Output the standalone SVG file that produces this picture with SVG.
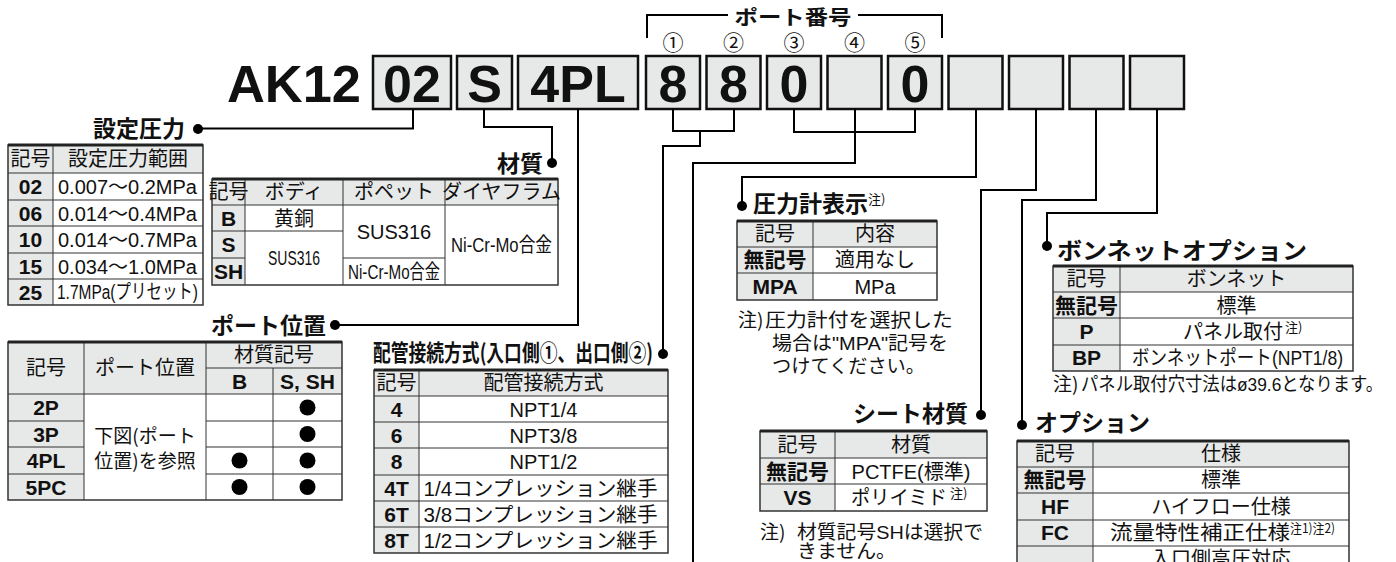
<svg xmlns="http://www.w3.org/2000/svg" width="1396" height="562" viewBox="0 0 1396 562">
<style>
text{font-family:"Liberation Sans","Noto Sans CJK JP",sans-serif;fill:#111}
.jp{font-family:"Noto Sans CJK JP","Liberation Sans",sans-serif}
.box{fill:#e7e8e8;stroke:#111;stroke-width:2.5}
.code{font-size:52px;font-weight:bold;text-anchor:middle}
.ttl{font-family:"Noto Sans CJK JP",sans-serif;font-size:23px;font-weight:bold}
.ln{stroke:#000;stroke-width:2;fill:none}
.hd{fill:#e7e8e8}
.out{fill:none;stroke:#333;stroke-width:1.5}
.top{stroke:#222;stroke-width:3}
.g{stroke:#333;stroke-width:1}
.t{font-size:20px;text-anchor:middle}
.tl{font-size:20px}
.b{font-size:21px;font-weight:bold;text-anchor:middle}
.sup{font-size:13px}
.nt{font-size:19px}
</style>

<g id="title">
<text x="227" y="102" font-size="52" font-weight="bold" textLength="134" lengthAdjust="spacingAndGlyphs">AK12</text>
</g>

<g id="codeboxes">
<rect class="box" x="373" y="56" width="78" height="53"/><text class="code" x="412" y="102">02</text>
<rect class="box" x="457" y="56" width="55" height="53"/><text class="code" x="484.5" y="102">S</text>
<rect class="box" x="518" y="56" width="120" height="53"/><text class="code" x="578" y="102">4PL</text>
<rect class="box" x="646" y="56" width="54" height="53"/><text class="code" x="673" y="102">8</text>
<rect class="box" x="706.5" y="56" width="54" height="53"/><text class="code" x="733.5" y="102">8</text>
<rect class="box" x="767" y="56" width="54" height="53"/><text class="code" x="794" y="102">0</text>
<rect class="box" x="827.5" y="56" width="54" height="53"/>
<rect class="box" x="888" y="56" width="54" height="53"/><text class="code" x="915" y="102">0</text>
<rect class="box" x="948.5" y="56" width="54" height="53"/>
<rect class="box" x="1009" y="56" width="54" height="53"/>
<rect class="box" x="1069.5" y="56" width="54" height="53"/>
<rect class="box" x="1130" y="56" width="54" height="53"/>
</g>

<g id="port-number">
<path class="ln" d="M647,38 V15 H728 M858,15 H942 V38" stroke-width="1.5"/>
<text class="jp" x="793" y="25" font-size="20" font-weight="bold" text-anchor="middle" textLength="117" lengthAdjust="spacingAndGlyphs">ポート番号</text>
<g font-size="21" text-anchor="middle" font-family="Noto Sans CJK JP, sans-serif">
<text x="673" y="50">①</text>
<text x="733.5" y="50">②</text>
<text x="794" y="50">③</text>
<text x="854.5" y="50">④</text>
<text x="915" y="50">⑤</text>
</g>
</g>

<g id="connectors">
<path class="ln" d="M413,109 V128.5 H198"/>
<path class="ln" d="M484,109 V127 H552 V163"/>
<path class="ln" d="M578,109 V325 H335"/>
<path class="ln" d="M673,109 V131 H734 V109 M700,131 V146 H663 V354"/>
<path class="ln" d="M794,109 V132 H915 V109 M855,109 V163 H693 V562"/>
<path class="ln" d="M976,109 V177 H742 V206"/>
<path class="ln" d="M1036,109 V190 H981 V415"/>
<path class="ln" d="M1096,109 V200 H1022 V425"/>
<path class="ln" d="M1157,109 V213 H1047 V246"/>
<circle cx="198" cy="129" r="5"/>
<circle cx="552" cy="163" r="5"/>
<circle cx="335" cy="325" r="5"/>
<circle cx="663" cy="354" r="5"/>
<circle cx="742" cy="206" r="5"/>
<circle cx="981" cy="415" r="5"/>
<circle cx="1022" cy="425" r="5"/>
<circle cx="1047" cy="246" r="5"/>
</g>

<g id="pressure">
<text class="ttl" x="185" y="137" text-anchor="end">設定圧力</text>
<rect class="hd" x="8" y="145" width="195" height="28"/>
<rect class="hd" x="8" y="173" width="45" height="132"/>
<path class="g" d="M53,145 V305 M8,173 H203 M8,200 H203 M8,226 H203 M8,253 H203 M8,279 H203"/>
<rect class="out" x="8" y="145" width="195" height="160"/>
<line class="top" x1="8" y1="145" x2="203" y2="145"/>
<text class="t" x="30.5" y="166">記号</text>
<text class="t" x="128" y="166">設定圧力範囲</text>
<text class="b" x="30.5" y="194">02</text><text class="tl" x="58" y="194">0.007～0.2MPa</text>
<text class="b" x="30.5" y="220.5">06</text><text class="tl" x="58" y="220.5">0.014～0.4MPa</text>
<text class="b" x="30.5" y="247">10</text><text class="tl" x="58" y="247">0.014～0.7MPa</text>
<text class="b" x="30.5" y="273.5">15</text><text class="tl" x="58" y="273.5">0.034～1.0MPa</text>
<text class="b" x="30.5" y="299.5">25</text><text class="tl" x="57" y="299" font-size="17" textLength="141" lengthAdjust="spacingAndGlyphs">1.7MPa(プリセット)</text>
</g>

<g id="material">
<text class="ttl" x="543" y="172" text-anchor="end">材質</text>
<rect class="hd" x="212" y="179" width="346" height="26"/>
<rect class="hd" x="212" y="205" width="33" height="80"/>
<path class="g" d="M245,179 V285 M343,179 V285 M445,179 V285 M212,205 H558 M212,231 H343 M212,258 H245 M343,258 H445"/>
<rect class="out" x="212" y="179" width="346" height="106"/>
<line class="top" x1="212" y1="179" x2="558" y2="179"/>
<text class="t" x="228.5" y="199" font-size="19">記号</text>
<text class="t" x="294" y="199" font-size="19">ボディ</text>
<text class="t" x="394" y="199" font-size="19">ポペット</text>
<text class="t" x="501.5" y="199" font-size="19">ダイヤフラム</text>
<text class="b" x="228.5" y="225.5">B</text>
<text class="b" x="228.5" y="252">S</text>
<text class="b" x="228.5" y="279">SH</text>
<text class="t" x="294" y="225.5">黄銅</text>
<text class="t" x="294" y="264.5" font-size="17" textLength="52" lengthAdjust="spacingAndGlyphs">SUS316</text>
<text class="t" x="394" y="239">SUS316</text>
<text class="t" x="394" y="278.5" font-size="16" textLength="92" lengthAdjust="spacingAndGlyphs">Ni-Cr-Mo合金</text>
<text class="t" x="501.5" y="251.5" font-size="17" textLength="101" lengthAdjust="spacingAndGlyphs">Ni-Cr-Mo合金</text>
</g>

<g id="port-position">
<text class="ttl" x="326" y="334" text-anchor="end">ポート位置</text>
<rect class="hd" x="8" y="342" width="334" height="52"/>
<rect class="hd" x="8" y="394" width="76" height="106"/>
<path class="g" d="M84,342 V500 M206,342 V500 M273,368 V500 M206,368 H342 M8,394 H342 M8,421 H84 M206,421 H342 M8,447 H84 M206,447 H342 M8,474 H84 M206,474 H342"/>
<rect class="out" x="8" y="342" width="334" height="158"/>
<line class="top" x1="8" y1="342" x2="342" y2="342"/>
<text class="t" x="46" y="375">記号</text>
<text class="t" x="145" y="375">ポート位置</text>
<text class="t" x="274" y="362">材質記号</text>
<text class="b" x="239.5" y="388.5">B</text>
<text class="b" x="307.5" y="388.5">S, SH</text>
<text class="b" x="46" y="415">2P</text>
<text class="b" x="46" y="441.5">3P</text>
<text class="b" x="46" y="468">4PL</text>
<text class="b" x="46" y="494.5">5PC</text>
<text class="jp" x="145" y="443" font-size="19" text-anchor="middle">下図(ポート</text>
<text class="jp" x="145" y="468" font-size="19" text-anchor="middle">位置)を参照</text>
<circle cx="307.5" cy="407.5" r="8"/>
<circle cx="307.5" cy="434" r="8"/>
<circle cx="239.5" cy="460.5" r="8"/>
<circle cx="307.5" cy="460.5" r="8"/>
<circle cx="239.5" cy="487" r="8"/>
<circle cx="307.5" cy="487" r="8"/>
</g>

<g id="piping">
<text class="ttl" x="373" y="361" textLength="280" lengthAdjust="spacingAndGlyphs" font-size="22">配管接続方式(入口側①、出口側②)</text>
<rect class="hd" x="374" y="370" width="294" height="26"/>
<rect class="hd" x="374" y="396" width="45" height="157"/>
<path class="g" d="M419,370 V553 M374,396 H668 M374,422 H668 M374,448 H668 M374,475 H668 M374,501 H668 M374,527 H668"/>
<rect class="out" x="374" y="370" width="294" height="183"/>
<line class="top" x1="374" y1="370" x2="668" y2="370"/>
<text class="t" x="396.5" y="390">記号</text>
<text class="t" x="543.5" y="390">配管接続方式</text>
<text class="b" x="396.5" y="416.5">4</text><text class="t" x="543.5" y="416.5">NPT1/4</text>
<text class="b" x="396.5" y="442.5">6</text><text class="t" x="543.5" y="442.5">NPT3/8</text>
<text class="b" x="396.5" y="469">8</text><text class="t" x="543.5" y="469">NPT1/2</text>
<text class="b" x="396.5" y="495.5">4T</text><text class="t" x="540.5" y="495.5" textLength="234" lengthAdjust="spacingAndGlyphs">1/4コンプレッション継手</text>
<text class="b" x="396.5" y="521.5">6T</text><text class="t" x="540.5" y="521.5" textLength="234" lengthAdjust="spacingAndGlyphs">3/8コンプレッション継手</text>
<text class="b" x="396.5" y="547.5">8T</text><text class="t" x="540.5" y="547.5" textLength="234" lengthAdjust="spacingAndGlyphs">1/2コンプレッション継手</text>
</g>

<g id="gauge">
<text class="ttl" x="753" y="212">圧力計表示</text>
<text class="jp sup" x="868" y="204">注)</text>
<rect class="hd" x="737" y="221" width="200" height="26"/>
<rect class="hd" x="737" y="247" width="76" height="53"/>
<path class="g" d="M813,221 V300 M737,247 H937 M737,273 H937"/>
<rect class="out" x="737" y="221" width="200" height="79"/>
<line class="top" x1="737" y1="221" x2="937" y2="221"/>
<text class="t" x="775" y="241">記号</text>
<text class="t" x="875" y="241">内容</text>
<text class="b" x="775" y="267">無記号</text><text class="t" x="875" y="267">適用なし</text>
<text class="b" x="775" y="294">MPA</text><text class="t" x="875" y="294">MPa</text>
<text class="nt jp" x="738" y="327">注)</text>
<text class="nt" x="765" y="327" textLength="188" lengthAdjust="spacingAndGlyphs">圧力計付を選択した</text>
<text class="nt" x="772" y="350" textLength="176" lengthAdjust="spacingAndGlyphs">場合は"MPA"記号を</text>
<text class="nt" x="772" y="373" textLength="153" lengthAdjust="spacingAndGlyphs">つけてください。</text>
</g>

<g id="seat">
<text class="ttl" x="968" y="422" text-anchor="end">シート材質</text>
<rect class="hd" x="760" y="431" width="227" height="27"/>
<rect class="hd" x="760" y="458" width="75" height="53"/>
<path class="g" d="M835,431 V511 M760,458 H987 M760,484 H987"/>
<rect class="out" x="760" y="431" width="227" height="80"/>
<line class="top" x1="760" y1="431" x2="987" y2="431"/>
<text class="t" x="797.5" y="451.5">記号</text>
<text class="t" x="911" y="451.5">材質</text>
<text class="b" x="797.5" y="478.5">無記号</text><text class="t" x="911" y="478.5">PCTFE(標準)</text>
<text class="b" x="797.5" y="505">VS</text><text class="tl" x="851" y="505" textLength="96" lengthAdjust="spacingAndGlyphs">ポリイミド</text><text class="jp sup" x="950" y="498">注)</text>
<text class="nt jp" x="760" y="539">注)</text>
<text class="nt" x="797" y="539" textLength="186" lengthAdjust="spacingAndGlyphs">材質記号SHは選択で</text>
<text class="nt" x="797" y="558" textLength="99" lengthAdjust="spacingAndGlyphs">きません。</text>
</g>

<g id="bonnet">
<text class="ttl" x="1057" y="259" textLength="250" lengthAdjust="spacingAndGlyphs">ボンネットオプション</text>
<rect class="hd" x="1053" y="266" width="300" height="26"/>
<rect class="hd" x="1053" y="292" width="67" height="79"/>
<path class="g" d="M1120,266 V371 M1053,292 H1353 M1053,318 H1353 M1053,345 H1353"/>
<rect class="out" x="1053" y="266" width="300" height="105"/>
<line class="top" x1="1053" y1="266" x2="1353" y2="266"/>
<text class="t" x="1086.5" y="286">記号</text>
<text class="t" x="1236.5" y="286">ボンネット</text>
<text class="b" x="1086.5" y="312.5">無記号</text><text class="t" x="1236.5" y="312.5">標準</text>
<text class="b" x="1086.5" y="339">P</text><text class="tl" x="1183" y="339" textLength="100" lengthAdjust="spacingAndGlyphs">パネル取付</text><text class="jp sup" x="1285" y="332">注)</text>
<text class="b" x="1086.5" y="365">BP</text><text class="t" x="1237.5" y="365" font-size="19" textLength="211" lengthAdjust="spacingAndGlyphs">ボンネットポート(NPT1/8)</text>
<text class="nt jp" x="1053" y="391">注)</text>
<text class="nt" x="1081" y="391" textLength="302" lengthAdjust="spacingAndGlyphs">パネル取付穴寸法はø39.6となります。</text>
</g>

<g id="option">
<text class="ttl" x="1035" y="431">オプション</text>
<rect class="hd" x="1017" y="441" width="332" height="26"/>
<rect class="hd" x="1017" y="467" width="76" height="105"/>
<path class="g" d="M1093,441 V572 M1017,467 H1349 M1017,493 H1349 M1017,520 H1349 M1017,546 H1349"/>
<rect class="out" x="1017" y="441" width="332" height="131"/>
<line class="top" x1="1017" y1="441" x2="1349" y2="441"/>
<text class="t" x="1055" y="461">記号</text>
<text class="t" x="1221" y="461">仕様</text>
<text class="b" x="1055" y="487">無記号</text><text class="t" x="1221" y="487">標準</text>
<text class="b" x="1055" y="513.5">HF</text><text class="t" x="1221" y="513.5">ハイフロー仕様</text>
<text class="b" x="1055" y="540">FC</text><text class="tl" x="1110" y="540" textLength="180" lengthAdjust="spacingAndGlyphs">流量特性補正仕様</text><text class="jp sup" x="1290" y="533" textLength="45" lengthAdjust="spacingAndGlyphs">注1)注2)</text>
<text class="t" x="1221" y="566">入口側高圧対応</text>
</g>
</svg>
